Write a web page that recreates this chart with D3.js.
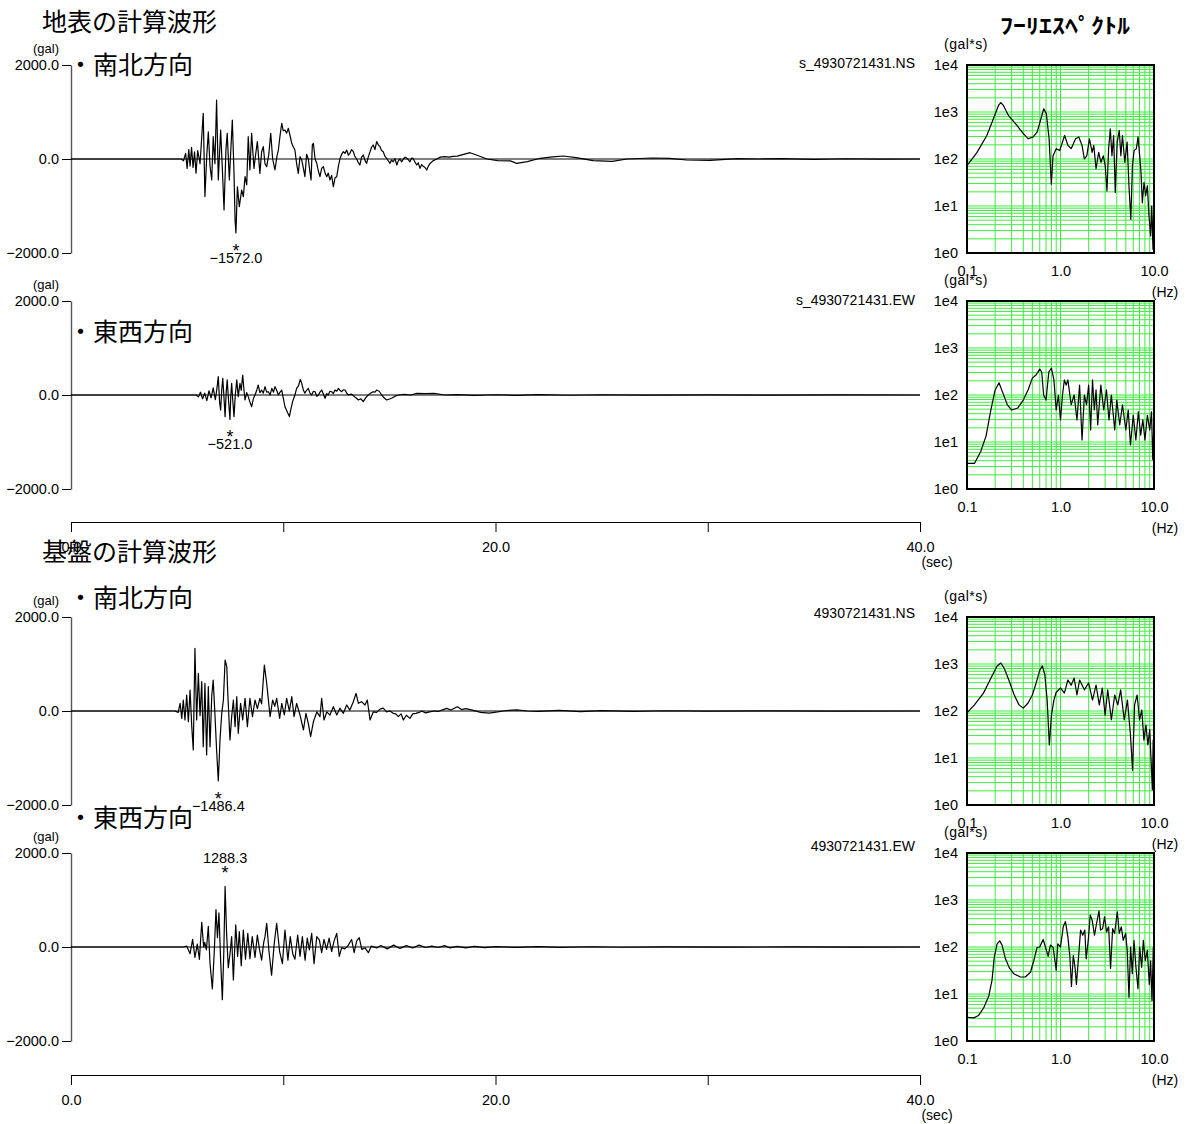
<!DOCTYPE html>
<html>
<head>
<meta charset="utf-8">
<script src="https://cdn.jsdelivr.net/npm/d3@7"></script>
<style>
body{margin:0;background:#fff;}
svg text{font-family:"Liberation Sans",Arial,sans-serif;fill:#000;}
svg .jp{font-family:"Noto Sans CJK JP",sans-serif;}
</style>
</head>
<body>
<svg id="chart" width="1190" height="1124"></svg>
<script>
// ---- data ----
const sectionTitles = ["地表の計算波形", "基盤の計算波形"];
const dirLabels = ["・南北方向", "・東西方向", "・南北方向", "・東西方向"];
const fileNames = ["s_4930721431.NS", "s_4930721431.EW", "4930721431.NS", "4930721431.EW"];
const specTitle = "ﾌｰﾘｴｽﾍﾟｸﾄﾙ";

const timeTicks = [0, 10, 20, 30, 40];
const timeLabels = ["0.0", "", "20.0", "", "40.0"];
const accelTicks = [2000, 0, -2000];
const accelLabels = ["2000.0", "0.0", "−2000.0"];
const freqTicks = [0.1, 1, 10];
const freqLabels = ["0.1", "1.0", "10.0"];
const ampTicks = [1, 10, 100, 1000, 10000];
const ampLabels = ["1e0", "1e1", "1e2", "1e3", "1e4"];

// peak values [time sec, gal]
const peaks = [[7.77, -1572.0], [7.49, -521.0], [6.94, -1486.4], [7.26, 1288.3]];

// acceleration time histories [sec, gal]
const surfNS = [[0,0],[5.2,0],[5.3,-40],[5.4,120],[5.47,-200],[5.55,200],[5.61,-150],[5.68,250],[5.75,-180],[5.82,150],[5.89,-300],[5.97,180],[6.08,-100],[6.23,973],[6.31,-800],[6.4,100],[6.47,580],[6.55,-150],[6.63,-447],[6.7,475],[6.78,-100],[6.86,1255],[6.94,-447],[7.05,617],[7.13,-200],[7.21,-1085],[7.3,200],[7.36,547],[7.46,-447],[7.6,830],[7.68,-300],[7.73,-1298],[7.77,-1572],[7.84,-590],[7.93,-1015],[8.04,-660],[8.12,-800],[8.2,-376],[8.28,-550],[8.35,475],[8.43,-234],[8.51,547],[8.62,-200],[8.7,100],[8.78,370],[8.9,-305],[8.98,150],[9.06,262],[9.14,-100],[9.22,-163],[9.32,100],[9.41,547],[9.5,0],[9.61,-234],[9.7,50],[9.77,191],[9.85,500],[9.93,760],[10.0,600],[10.08,617],[10.16,550],[10.24,653],[10.32,500],[10.4,334],[10.48,250],[10.55,191],[10.63,-100],[10.71,-305],[10.79,50],[10.87,-21],[10.95,-200],[11.02,-376],[11.1,100],[11.18,0],[11.25,-250],[11.31,-447],[11.37,300],[11.42,334],[11.5,0],[11.58,-92],[11.65,-250],[11.73,-376],[11.81,-200],[11.89,-163],[11.97,-300],[12.05,-376],[12.12,-300],[12.2,-447],[12.28,-350],[12.36,-590],[12.44,-400],[12.52,-376],[12.6,-150],[12.67,0],[12.75,100],[12.83,156],[12.91,120],[12.99,191],[13.07,80],[13.14,120],[13.22,200],[13.3,156],[13.38,50],[13.46,0],[13.54,-80],[13.61,-128],[13.69,40],[13.77,85],[13.85,-30],[13.93,-92],[14.01,50],[14.09,156],[14.16,250],[14.24,298],[14.32,200],[14.4,370],[14.48,300],[14.56,262],[14.63,180],[14.71,156],[14.79,60],[14.87,15],[14.95,-40],[15.03,-92],[15.1,-20],[15.18,-60],[15.26,10],[15.35,-128],[15.42,-40],[15.5,0],[15.58,-60],[15.66,0],[15.74,40],[15.82,15],[15.9,-20],[15.97,-60],[16.05,20],[16.11,15],[16.2,-60],[16.29,-128],[16.36,-80],[16.44,-198],[16.52,-120],[16.58,-150],[16.68,-180],[16.76,-234],[16.85,-140],[16.91,-100],[17.05,-40],[17.23,0],[17.4,40],[17.6,50],[17.8,40],[18.0,55],[18.2,60],[18.5,100],[18.8,134],[19.1,85],[19.6,0],[20.1,-35],[20.7,-40],[21.0,-92],[21.5,-57],[22.1,15],[22.7,45],[23.2,64],[23.8,28],[24.6,-36],[25.5,-49],[26.2,0],[27.4,21],[28.2,15],[29.0,-21],[30.1,-28],[31.4,7],[32.4,0],[33.5,8],[35,-6],[36.5,5],[38,-4],[40,0]];

const surfEW = [[0,0],[5.9,0],[6.0,-40],[6.1,60],[6.2,-80],[6.3,40],[6.4,-120],[6.5,90],[6.6,-60],[6.7,150],[6.8,-100],[6.87,120],[6.94,390],[7.0,-150],[7.05,-320],[7.1,100],[7.15,355],[7.2,0],[7.26,-460],[7.31,50],[7.36,320],[7.42,-100],[7.49,-521],[7.53,0],[7.57,250],[7.62,-100],[7.68,-460],[7.74,0],[7.81,320],[7.88,-35],[7.96,250],[8.02,100],[8.09,425],[8.15,100],[8.2,-106],[8.28,50],[8.35,-35],[8.43,-150],[8.51,-250],[8.59,-80],[8.67,0],[8.75,100],[8.82,213],[8.9,50],[8.98,106],[9.06,40],[9.14,177],[9.22,60],[9.3,70],[9.38,0],[9.46,142],[9.54,60],[9.61,177],[9.69,100],[9.77,0],[9.85,60],[9.93,106],[10.0,-60],[10.08,-250],[10.18,-350],[10.29,-460],[10.36,-300],[10.44,-142],[10.55,0],[10.63,142],[10.72,200],[10.8,330],[10.87,250],[10.95,100],[11.02,40],[11.1,100],[11.18,142],[11.26,40],[11.34,0],[11.42,80],[11.5,70],[11.58,-30],[11.65,0],[11.73,60],[11.81,106],[11.89,20],[11.97,-70],[12.05,30],[12.12,0],[12.2,80],[12.28,70],[12.36,30],[12.44,106],[12.52,80],[12.6,142],[12.67,100],[12.75,70],[12.83,110],[12.91,106],[12.99,40],[13.07,0],[13.2,20],[13.3,-10],[13.42,-60],[13.54,-106],[13.65,-80],[13.77,-142],[13.88,-60],[14.0,0],[14.12,40],[14.24,70],[14.32,60],[14.4,106],[14.52,80],[14.64,0],[14.75,-60],[14.87,-106],[14.98,-90],[15.1,-70],[15.25,-30],[15.43,0],[15.7,15],[16.0,0],[16.3,35],[16.7,30],[17.1,35],[17.6,0],[18.2,10],[19,-10],[20,5],[21,-8],[22,6],[23.5,-5],[25,5],[27,-4],[30,3],[33,-3],[36,2],[40,0]];

const baseNS = [[0,0],[4.9,0],[5.05,-30],[5.14,163],[5.22,-156],[5.29,234],[5.37,-191],[5.45,340],[5.53,-227],[5.61,447],[5.69,-333],[5.76,-830],[5.84,1334],[5.92,-191],[6.0,802],[6.08,-100],[6.16,624],[6.23,-760],[6.31,590],[6.39,-936],[6.47,518],[6.55,-760],[6.63,305],[6.7,660],[6.78,-60],[6.86,-830],[6.94,-1486],[7.02,-617],[7.1,-60],[7.18,234],[7.26,1085],[7.34,943],[7.38,447],[7.49,-617],[7.57,-120],[7.65,234],[7.73,-333],[7.81,305],[7.88,-475],[7.99,163],[8.09,-191],[8.2,270],[8.31,-333],[8.43,270],[8.55,-120],[8.67,234],[8.78,50],[8.9,270],[8.98,150],[9.11,979],[9.22,590],[9.38,-120],[9.5,234],[9.6,100],[9.69,270],[9.83,-156],[9.93,163],[10.05,-85],[10.16,270],[10.29,0],[10.4,305],[10.51,-120],[10.63,160],[10.79,-85],[10.95,-404],[11.07,-50],[11.18,-262],[11.29,-546],[11.42,-230],[11.58,-20],[11.73,-120],[11.81,270],[11.92,-191],[12.05,-20],[12.2,-85],[12.36,92],[12.52,-85],[12.67,60],[12.83,-50],[12.99,128],[13.14,20],[13.3,198],[13.43,376],[13.54,163],[13.69,198],[13.85,128],[13.96,234],[14.09,-191],[14.24,-20],[14.4,-30],[14.56,40],[14.71,60],[14.87,-20],[15.03,0],[15.18,-50],[15.3,-60],[15.42,-120],[15.55,-60],[15.66,-191],[15.8,-90],[15.97,-156],[16.1,-60],[16.25,-50],[16.4,-30],[16.53,0],[16.7,-40],[16.9,-20],[17.1,0],[17.3,-10],[17.47,20],[17.7,57],[17.9,20],[18.2,92],[18.4,30],[18.6,50],[18.9,20],[19.3,-30],[19.7,-45],[20.1,-20],[20.5,10],[21.0,25],[21.5,0],[22,-10],[23,15],[24,-12],[25,8],[26.5,-6],[28,5],[30,-4],[33,3],[36,-2],[40,0]];

const baseEW = [[0,0],[5.29,0],[5.45,20],[5.61,-142],[5.73,163],[5.84,-220],[5.95,60],[6.05,-262],[6.16,525],[6.25,0],[6.3,100],[6.38,-60],[6.47,440],[6.55,-355],[6.66,-890],[6.75,-100],[6.83,795],[6.9,200],[6.97,725],[7.05,-280],[7.13,-1120],[7.2,-100],[7.26,1288],[7.33,300],[7.41,-440],[7.49,-150],[7.57,220],[7.65,-700],[7.76,470],[7.85,-200],[7.93,330],[8.02,-400],[8.12,360],[8.22,-260],[8.33,290],[8.43,-250],[8.54,220],[8.67,-220],[8.78,255],[8.88,-50],[8.98,-280],[9.08,100],[9.14,220],[9.22,505],[9.33,-100],[9.45,-600],[9.57,50],[9.69,505],[9.83,-100],[9.96,-355],[10.08,360],[10.22,-280],[10.33,220],[10.45,-150],[10.55,-260],[10.68,255],[10.79,-200],[10.9,220],[11.03,-280],[11.13,190],[11.23,-60],[11.34,290],[11.45,-355],[11.58,220],[11.7,150],[11.81,-120],[11.92,160],[12.04,-50],[12.16,190],[12.28,-100],[12.39,120],[12.52,290],[12.64,-200],[12.75,-20],[12.9,-40],[13.05,30],[13.22,160],[13.34,-120],[13.46,130],[13.58,200],[13.7,-50],[13.85,-20],[14.01,-120],[14.15,20],[14.4,-20],[14.6,30],[14.9,-40],[15.2,40],[15.5,-30],[15.8,30],[16.1,-20],[16.4,40],[16.7,-10],[17.0,20],[17.3,-10],[17.6,30],[17.86,-20],[18.2,15],[18.6,-20],[19,15],[19.5,-15],[20,10],[21,-10],[22,8],[23,-6],[24.5,5],[26,-5],[28,4],[31,-3],[34,3],[37,-2],[40,0]];

// Fourier spectra [Hz, gal*s]
const specSurfNS = [[0.1,72],[0.128,138],[0.163,316],[0.192,724],[0.217,1380],[0.23,1585],[0.245,1380],[0.277,850],[0.34,525],[0.4,347],[0.452,269],[0.51,295],[0.562,372],[0.61,660],[0.662,1175],[0.706,912],[0.755,269],[0.798,29],[0.832,117],[0.9,166],[0.98,151],[1.107,316],[1.2,195],[1.3,166],[1.45,269],[1.57,295],[1.7,195],[1.8,100],[1.91,117],[2.04,269],[2.18,138],[2.27,195],[2.4,62],[2.56,138],[2.71,85],[2.87,117],[3.01,72],[3.14,21],[3.27,166],[3.41,437],[3.55,117],[3.7,316],[3.85,19.5],[4.04,229],[4.25,407],[4.42,117],[4.6,316],[4.87,85],[5.16,229],[5.42,23],[5.65,5.2],[5.88,72],[6.12,151],[6.48,166],[6.75,295],[7.03,117],[7.26,52],[7.5,11.7],[7.82,32],[8.15,16.6],[8.49,27],[8.84,6.2],[9.2,2.3],[9.44,10],[9.75,1.2],[10,27]];

const specSurfEW = [[0.1,3.5],[0.12,3.5],[0.14,6.2],[0.16,13.5],[0.18,48],[0.2,128],[0.22,182],[0.24,115],[0.27,62],[0.3,48],[0.35,53],[0.4,78],[0.45,128],[0.5,229],[0.55,269],[0.6,355],[0.63,309],[0.66,100],[0.7,78],[0.75,309],[0.8,372],[0.85,209],[0.9,48],[0.95,100],[1.0,29.5],[1.05,100],[1.1,209],[1.15,162],[1.2,209],[1.3,62],[1.4,100],[1.5,29.5],[1.6,162],[1.7,11],[1.8,100],[1.9,62],[2.0,162],[2.1,18],[2.2,209],[2.3,48],[2.4,128],[2.5,23],[2.7,162],[2.9,48],[3.1,128],[3.3,29.5],[3.5,100],[3.8,18],[4.0,78],[4.3,23],[4.6,62],[5.0,18],[5.3,48],[5.6,8.7],[6.0,37],[6.4,11],[6.8,44],[7.2,14],[7.6,29.5],[8.0,11],[8.5,37],[9.0,18],[9.4,44],[9.7,4.2],[10,29.5]];

const specBaseNS = [[0.1,91],[0.12,135],[0.15,240],[0.18,500],[0.21,910],[0.23,1050],[0.25,813],[0.28,457],[0.32,219],[0.36,135],[0.4,115],[0.45,148],[0.5,219],[0.55,398],[0.6,741],[0.64,912],[0.68,589],[0.72,170],[0.76,19],[0.8,81],[0.85,170],[0.9,251],[1.0,309],[1.1,240],[1.2,457],[1.3,355],[1.4,501],[1.5,219],[1.6,457],[1.8,282],[2.0,398],[2.2,170],[2.4,355],[2.6,135],[2.8,309],[3.0,81],[3.2,282],[3.5,65],[3.8,219],[4.1,135],[4.4,282],[4.8,65],[5.2,170],[5.6,31],[5.9,5.5],[6.2,135],[6.6,219],[7.0,65],[7.4,105],[7.8,24],[8.2,50],[8.6,19],[9.0,40],[9.3,9.1],[9.6,2.1],[9.8,24],[10,9.1]];

const specBaseEW = [[0.1,3.2],[0.118,3.1],[0.133,3.5],[0.151,5.1],[0.171,9.1],[0.185,19.5],[0.196,62],[0.21,117],[0.224,135],[0.237,110],[0.258,56],[0.286,35],[0.316,27],[0.373,23],[0.42,23],[0.477,29],[0.518,51],[0.562,98],[0.6,100],[0.652,145],[0.69,100],[0.737,63],[0.78,110],[0.834,98],[0.899,32],[0.935,117],[1.0,100],[1.07,269],[1.13,347],[1.2,162],[1.26,62],[1.31,14.5],[1.37,66],[1.43,37],[1.48,16],[1.56,62],[1.64,229],[1.73,178],[1.82,229],[1.88,56],[1.98,138],[2.08,479],[2.18,372],[2.31,178],[2.43,316],[2.58,589],[2.68,229],[2.82,245],[2.96,437],[3.11,209],[3.27,269],[3.43,35],[3.61,245],[3.79,195],[4.05,562],[4.25,195],[4.47,269],[4.69,138],[4.97,195],[5.17,85],[5.4,8.5],[5.62,100],[5.86,27],[6.11,138],[6.41,37],[6.74,13],[7.02,100],[7.38,37],[7.69,138],[8.07,51],[8.48,85],[8.91,16],[9.2,51],[9.52,7.2],[9.84,100],[10,44]];

const waves = [surfNS, surfEW, baseNS, baseEW];
const spectra = [specSurfNS, specSurfEW, specBaseNS, specBaseEW];

// ---- layout ----
const panelTop = [65, 301, 617, 853];
const panelH = 188;
const waveLeft = 71, waveRight = 920;
const specLeft = 967, specRight = 1154;
const timeAxisY = [522, 1075];
const titleY = [31, 561];
const dirY = [74, 341, 607, 827];
const fileY = [68, 305, 618, 851];
const gridColor = "#40ea40";

const svg = d3.select("#chart");

// section titles
svg.selectAll(".sect").data(sectionTitles).join("text")
    .attr("class", "jp")
    .attr("x", 42).attr("y", (d, i) => titleY[i])
    .style("font-size", "25px")
    .text(d => d);

svg.append("text")
    .attr("class", "jp")
    .attr("x", 1000).attr("y", 33)
    .attr("textLength", 130).attr("lengthAdjust", "spacingAndGlyphs")
    .style("font-size", "21px").style("font-weight", "bold")
    .text(specTitle);

const x = d3.scaleLinear().domain([0, 40]).range([waveLeft, waveRight]);
const line = d3.line();

waves.forEach(function(data, i) {
    const top = panelTop[i];
    const y = d3.scaleLinear().domain([-2000, 2000]).range([top + panelH, top]);
    const g = svg.append("g");

    // y axis
    const ax = g.append("g")
        .attr("transform", `translate(${waveLeft},0)`)
        .call(d3.axisLeft(y).tickValues(accelTicks).tickSize(9).tickSizeOuter(0)
            .tickPadding(3).tickFormat((d, k) => accelLabels[k]));
    ax.select(".domain").attr("stroke", "#555").attr("stroke-width", 1.4);
    ax.selectAll("text").style("font-size", "14.5px").attr("fill", "#000");

    g.append("text")
        .attr("x", 46).attr("y", top - 12)
        .attr("text-anchor", "middle")
        .style("font-size", "13px")
        .text("(gal)");

    // zero line
    g.append("line")
        .attr("x1", x(0)).attr("x2", x(40))
        .attr("y1", y(0)).attr("y2", y(0))
        .attr("stroke", "#000").attr("stroke-width", 1);

    // waveform
    g.append("path")
        .datum(data)
        .attr("d", line.x(d => x(d[0])).y(d => y(d[1])))
        .attr("fill", "none")
        .attr("stroke", "#000")
        .attr("stroke-width", 1.2)
        .attr("stroke-linejoin", "round");

    // direction label & file name
    g.append("text")
        .attr("class", "jp")
        .attr("x", 68).attr("y", dirY[i])
        .style("font-size", "25px")
        .text(dirLabels[i]);

    g.append("text")
        .attr("x", 915).attr("y", fileY[i])
        .attr("text-anchor", "end")
        .style("font-size", "14px")
        .text(fileNames[i]);

    // peak marker
    const pk = peaks[i];
    const py = y(pk[1]);
    const neg = pk[1] < 0;
    g.append("text")
        .attr("x", x(pk[0])).attr("y", neg ? py + 24 : py - 7)
        .attr("text-anchor", "middle")
        .style("font-size", "18px")
        .text("*");
    g.append("text")
        .attr("x", x(pk[0])).attr("y", neg ? py + 30 : py - 23)
        .attr("text-anchor", "middle")
        .style("font-size", "14.5px")
        .text((neg ? "−" : "") + Math.abs(pk[1]).toFixed(1));

    // ---- Fourier spectrum ----
    const xs = d3.scaleLog().domain([0.1, 10]).range([specLeft, specRight]);
    const ys = d3.scaleLog().domain([1, 1e4]).range([top + panelH, top]);
    const sg = svg.append("g");

    sg.selectAll(".vg").data(xs.ticks()).join("line")
        .attr("x1", d => xs(d)).attr("x2", d => xs(d))
        .attr("y1", top).attr("y2", top + panelH)
        .attr("stroke", gridColor).attr("stroke-width", 1);
    sg.selectAll(".hg").data(ys.ticks()).join("line")
        .attr("x1", specLeft).attr("x2", specRight)
        .attr("y1", d => ys(d)).attr("y2", d => ys(d))
        .attr("stroke", gridColor).attr("stroke-width", 1);

    sg.append("path")
        .datum(spectra[i])
        .attr("d", d3.line().x(d => xs(d[0])).y(d => ys(d[1])))
        .attr("fill", "none")
        .attr("stroke", "#000")
        .attr("stroke-width", 1.2)
        .attr("stroke-linejoin", "round");

    sg.append("rect")
        .attr("x", specLeft).attr("y", top)
        .attr("width", specRight - specLeft).attr("height", panelH)
        .attr("fill", "none").attr("stroke", "#000").attr("stroke-width", 2);

    const ya = sg.append("g")
        .attr("transform", `translate(${specLeft},0)`)
        .call(d3.axisLeft(ys).tickValues(ampTicks).tickSize(0).tickPadding(9)
            .tickFormat((d, k) => ampLabels[k]));
    ya.select(".domain").remove();
    ya.selectAll("text").style("font-size", "14.5px").attr("fill", "#000");

    const xa = sg.append("g")
        .attr("transform", `translate(0,${top + panelH})`)
        .call(d3.axisBottom(xs).tickValues(freqTicks).tickSize(0).tickPadding(13)
            .tickFormat((d, k) => freqLabels[k]));
    xa.select(".domain").remove();
    xa.selectAll("text").style("font-size", "14.5px").attr("fill", "#000");

    sg.append("text")
        .attr("x", 966).attr("y", top - 16)
        .attr("text-anchor", "middle")
        .style("font-size", "14px")
        .style("letter-spacing", "0.5px")
        .text("(gal*s)");
    sg.append("text")
        .attr("x", 1165).attr("y", top + panelH + 44)
        .attr("text-anchor", "middle")
        .style("font-size", "14px")
        .text("(Hz)");
});

// time axes
timeAxisY.forEach(function(ty) {
    const ta = svg.append("g")
        .attr("transform", `translate(0,${ty})`)
        .call(d3.axisBottom(x).tickValues(timeTicks).tickSize(10).tickSizeOuter(0)
            .tickPadding(10).tickFormat((d, k) => timeLabels[k]));
    ta.select(".domain").attr("stroke", "#000");
    ta.selectAll("text").style("font-size", "14.5px").attr("fill", "#000");
    svg.append("text")
        .attr("x", 937).attr("y", ty + 45)
        .attr("text-anchor", "middle")
        .style("font-size", "14px")
        .text("(sec)");
});
</script>
</body>
</html>
